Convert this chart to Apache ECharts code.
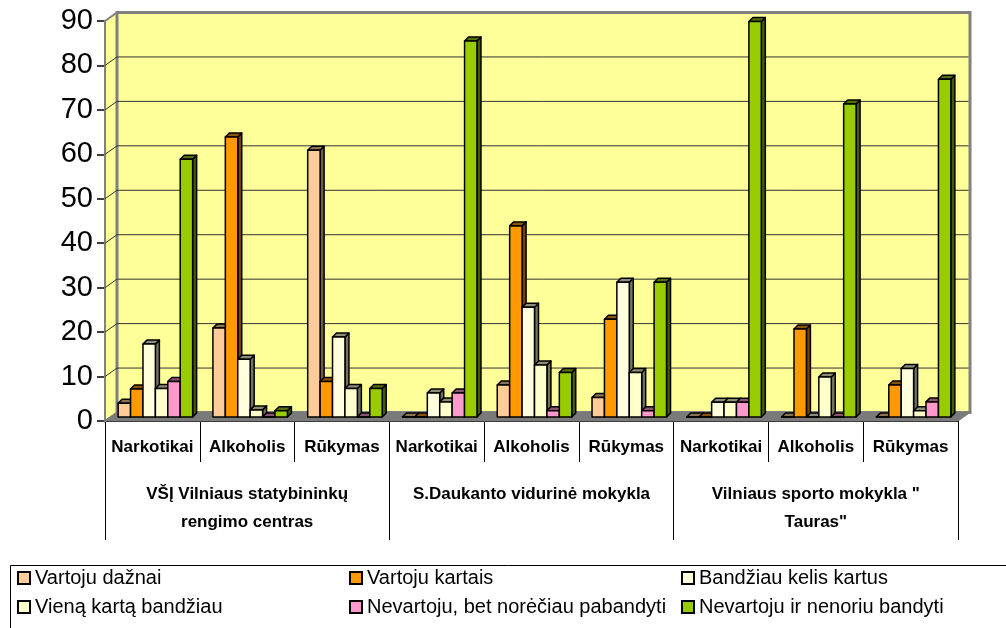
<!DOCTYPE html>
<html>
<head>
<meta charset="utf-8">
<script src="https://cdn.jsdelivr.net/npm/echarts@6/dist/echarts.min.js"></script>
<style>html,body{margin:0;padding:0;background:#fff}#c{width:1006px;height:628px}</style>
</head>
<body>
<div id="c"></div>
<script>
// ---- data ----
const categories = ['Narkotikai','Alkoholis','Rūkymas','Narkotikai','Alkoholis','Rūkymas','Narkotikai','Alkoholis','Rūkymas'];
const groups = ['VŠĮ Vilniaus statybininkų\nrengimo centras','S.Daukanto vidurinė mokykla','Vilniaus sporto mokykla "\nTauras"'];
const seriesNames = ['Vartoju dažnai','Vartoju kartais','Bandžiau kelis kartus','Vieną kartą bandžiau','Nevartoju, bet norėčiau pabandyti','Nevartoju ir nenoriu bandyti'];
const vartojuDaznai   = [3.1, 20,  60,  0,    7.2,  4.4,  0,   0,    0];
const vartojuKartais  = [6.3, 63,  8,   0,    43,   22,   0,   19.8, 7.2];
const bandziauKelis   = [16.4,13,  18,  5.4,  24.7, 30.3, 3.3, 0,    10.9];
const vienaKarta      = [6.4, 1.6, 6.4, 3.4,  11.7, 10,   3.3, 9,    1.4];
const norečiau        = [8,   0,   0,   5.4,  1.4,  1.4,  3.3, 0,    3.4];
const nenoriu         = [58,  1.4, 6.4, 84.6, 10,   30.3, 89,  70.4, 76];
const yTicks = [0,10,20,30,40,50,60,70,80,90];
const colors = ['#FFCC99','#FF9900','#FFFFDD','#FFFFCC','#FF99CC','#99CC00'];
const allValues = [vartojuDaznai, vartojuKartais, bandziauKelis, vienaKarta, norečiau, nenoriu];

function shade(hex, f){
  const n = parseInt(hex.slice(1),16);
  const r = Math.round(((n>>16)&255)*f), g = Math.round(((n>>8)&255)*f), b = Math.round((n&255)*f);
  return 'rgb('+r+','+g+','+b+')';
}

const WDX = 12, WDY = -8.5; // wall depth
function renderWall(params, api){
  const cs = params.coordSys;
  const v = api.value(0);
  const y = api.coord([0, v])[1];
  const L = cs.x, R = cs.x + cs.width, top = cs.y, bot = cs.y + cs.height;
  const ch = [];
  if (params.dataIndex === 0){
    ch.push({type:'polygon', shape:{points:[[L,top],[L+WDX,top+WDY],[L+WDX,bot+WDY],[L,bot]]}, style:{fill:'#FFFF99', stroke:'#808080', lineWidth:2}});
    ch.push({type:'rect', shape:{x:L+WDX, y:top+WDY, width:cs.width, height:cs.height}, style:{fill:'#FFFF99', stroke:'#808080', lineWidth:3}});
    ch.push({type:'polygon', shape:{points:[[L,bot],[L+WDX,bot+WDY],[R+WDX,bot+WDY],[R,bot]]}, style:{fill:'#7a7a7a', stroke:'#7a7a7a', lineWidth:1}});
  }
  if (v > 0 && v < 90){
    ch.push({type:'polyline', shape:{points:[[L,y],[L+WDX,y+WDY],[R+WDX-1.5,y+WDY]]}, style:{stroke:'#333', lineWidth:1, fill:null}});
  }
  return {type:'group', children:ch};
}

function makeBarRender(k){
  return function(params, api){
    const ci = api.value(0), v = api.value(1);
    const band = api.size([1,0])[0];
    const bw = band*0.131;
    const c = api.coord([ci, 0]);
    const t = api.coord([ci, v]);
    const x = c[0] - 3*bw + 3 + k*bw;
    const base = c[1] - 4, tp = t[1] - 4;
    const d = 4;
    const col = colors[k];
    const st = {stroke:'#000', lineWidth:1.5, lineJoin:'round'};
    return {type:'group', children:[
      {type:'polygon', shape:{points:[[x+bw,tp],[x+bw+d,tp-d],[x+bw+d,base-d],[x+bw,base]]}, style:Object.assign({fill:shade(col,0.45)}, st)},
      {type:'polygon', shape:{points:[[x,tp],[x+bw,tp],[x+bw+d,tp-d],[x+d,tp-d]]}, style:Object.assign({fill:shade(col,0.55)}, st)},
      {type:'rect', shape:{x:x, y:tp, width:bw, height:base-tp}, style:Object.assign({fill:col}, st)}
    ]};
  };
}

const series = [{
  type:'custom', name:'wall', renderItem:renderWall, z:1, silent:true,
  data: yTicks.map(v=>[v]), encode:{y:0}
}];
seriesNames.forEach((nm,k)=>{
  series.push({
    type:'custom', name:nm, z:2,
    renderItem: makeBarRender(k),
    itemStyle:{color:colors[k]},
    encode:{x:0, y:1},
    data: allValues[k].map((v,i)=>[i, v])
  });
});

const chart = echarts.init(document.getElementById('c'), null, {renderer:'canvas'});
chart.setOption({
  animation:false,
  color: colors,
  grid:{left:105, right:48, top:21, bottom:207},
  xAxis:[{
    type:'category', data:categories, gridIndex:0,
    axisLine:{show:true, lineStyle:{color:'#000', width:2}},
    axisTick:{show:true, length:41, lineStyle:{color:'#000', width:1}},
    axisLabel:{interval:0, margin:18, color:'#000', fontFamily:'Liberation Sans', fontWeight:'bold', fontSize:17},
    splitLine:{show:false}
  },{
    type:'category', data:groups, gridIndex:0, position:'bottom', offset:0,
    axisLine:{show:false},
    axisTick:{show:true, length:119, lineStyle:{color:'#000', width:1}},
    axisLabel:{interval:0, margin:59, color:'#000', fontFamily:'Liberation Sans', fontWeight:'bold', fontSize:17, lineHeight:28, align:'center'},
    splitLine:{show:false}
  }],
  yAxis:{
    type:'value', min:0, max:90, interval:10,
    axisLine:{show:true, lineStyle:{color:'#000', width:1.5}},
    axisTick:{show:true, length:8, lineStyle:{color:'#000', width:1.5}},
    axisLabel:{margin:12, color:'#000', fontFamily:'Liberation Sans', fontSize:29},
    splitLine:{show:false}
  },
  legend:{
    data: seriesNames,
    left:17, top:565, width:1000, padding:0,
    itemWidth:12, itemHeight:12, itemGap:3,
    icon:'rect',
    itemStyle:{borderColor:'#000', borderWidth:2},
    textStyle:{fontFamily:'Liberation Sans', fontSize:20, color:'#000', width:311, lineHeight:26, overflow:'truncate'},
    selectedMode:false
  },
  graphic:[{type:'rect', left:8, top:563, shape:{width:1010, height:80}, style:{fill:null, stroke:'#000', lineWidth:1}, silent:true}],
  series: series
});
</script>
</body>
</html>
